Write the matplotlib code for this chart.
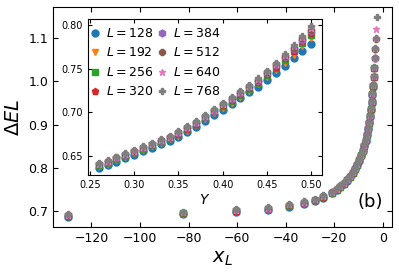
import numpy as np
import matplotlib
matplotlib.use("Agg")
import matplotlib.pyplot as plt

# ---------------- data ----------------
L_values = [128, 192, 256, 320, 384, 512, 640, 768]
markers = ['o', 'v', 's', 'p', 'h', '8', '*', 'P']
colors = ['C0', 'C1', 'C2', 'C3', 'C4', 'C5', 'C6', 'C7']

# main panel: common x_L grid, per-L Delta E L values (shorter lists end earlier)
main_x = [-129.5, -82.5, -60.5, -47.5, -38.5, -32.5, -28.0, -24.5, -21.0, -19.0,
          -17.5, -16.0, -14.7, -13.5, -12.4, -11.4, -10.5, -9.7, -9.0, -8.3,
          -7.7, -7.1, -6.6, -6.1, -5.7, -5.3, -4.95, -4.6, -4.3, -4.05,
          -3.8, -3.6, -3.4, -3.2, -3.0, -2.8, -2.6]

main_y_128 = [0.686, 0.692, 0.698, 0.702, 0.710, 0.716, 0.722, 0.730,
              0.741, 0.748, 0.755, 0.762, 0.770, 0.778, 0.787, 0.796, 0.806, 0.816,
              0.827, 0.838, 0.850, 0.862, 0.875, 0.889, 0.903, 0.918, 0.934, 0.951,
              0.969, 0.988]
main_y_192 = [0.6875, 0.6935, 0.6995, 0.7035, 0.7115, 0.7175, 0.7235, 0.7315,
              0.742, 0.749, 0.756, 0.763, 0.771, 0.779, 0.788, 0.797, 0.807, 0.817,
              0.828, 0.839, 0.851, 0.863, 0.876, 0.890, 0.904, 0.919, 0.935, 0.952,
              0.970, 0.989, 1.009]
main_y_256 = [0.6885, 0.6945, 0.7005, 0.7045, 0.7125, 0.7185, 0.7245, 0.7325,
              0.7425, 0.7495, 0.7565, 0.7635, 0.7715, 0.7795, 0.7885, 0.7975, 0.8075,
              0.8175, 0.8285, 0.8395, 0.8515, 0.8635, 0.8765, 0.8905, 0.9045, 0.9195,
              0.9355, 0.9525, 0.9705, 0.9895, 1.0095, 1.0305]
main_y_320 = [0.689, 0.695, 0.701, 0.705, 0.713, 0.719, 0.725, 0.733,
              0.743, 0.750, 0.757, 0.764, 0.772, 0.780, 0.789, 0.798, 0.808, 0.818,
              0.829, 0.840, 0.852, 0.864, 0.877, 0.891, 0.905, 0.920, 0.936, 0.953,
              0.971, 0.990, 1.010, 1.031, 1.053]
main_y_384 = [0.6895, 0.6955, 0.7015, 0.7055, 0.7135, 0.7195, 0.7255, 0.7335,
              0.7435, 0.7505, 0.7575, 0.7645, 0.7725, 0.7805, 0.7895, 0.7985, 0.8085,
              0.8185, 0.8295, 0.8405, 0.8525, 0.8645, 0.8775, 0.8915, 0.9055, 0.9205,
              0.9365, 0.9535, 0.9715, 0.9905, 1.0105, 1.0315, 1.0535, 1.0755]
main_y_512 = [0.690, 0.696, 0.702, 0.706, 0.714, 0.720, 0.726, 0.734,
              0.744, 0.751, 0.758, 0.765, 0.773, 0.781, 0.790, 0.799, 0.809, 0.819,
              0.830, 0.841, 0.853, 0.865, 0.878, 0.892, 0.906, 0.921, 0.937, 0.954,
              0.972, 0.991, 1.011, 1.032, 1.054, 1.076, 1.099]
main_y_640 = [0.691, 0.697, 0.703, 0.707, 0.715, 0.721, 0.727, 0.735,
              0.7445, 0.7515, 0.7585, 0.7655, 0.7735, 0.7815, 0.7905, 0.7995, 0.8095,
              0.8195, 0.8305, 0.8415, 0.8535, 0.8655, 0.8785, 0.8925, 0.9065, 0.9215,
              0.9375, 0.9545, 0.9725, 0.9915, 1.0115, 1.0325, 1.0545, 1.0765, 1.0995,
              1.122]
main_y_768 = [0.692, 0.698, 0.704, 0.708, 0.716, 0.722, 0.728, 0.736,
              0.745, 0.752, 0.759, 0.766, 0.774, 0.782, 0.791, 0.800, 0.810, 0.820,
              0.831, 0.842, 0.854, 0.866, 0.879, 0.893, 0.907, 0.922, 0.938, 0.955,
              0.973, 0.992, 1.012, 1.033, 1.055, 1.077, 1.100, np.nan, 1.149]

# inset: Y grid and per-L Delta E L
inset_Y = [0.26, 0.27, 0.28, 0.29, 0.30, 0.31, 0.32, 0.33, 0.34, 0.35, 0.36, 0.37, 0.38,
           0.39, 0.40, 0.41, 0.42, 0.43, 0.44, 0.45, 0.46, 0.47, 0.48, 0.49, 0.50]
inset_128 = [0.636, 0.639, 0.643, 0.647, 0.651, 0.655, 0.659, 0.663, 0.667, 0.671, 0.677,
             0.683, 0.690, 0.697, 0.703, 0.709, 0.716, 0.723, 0.729, 0.737, 0.745, 0.753,
             0.762, 0.771, 0.779]
inset_192 = [0.638, 0.641, 0.645, 0.649, 0.653, 0.657, 0.661, 0.665, 0.669, 0.673, 0.679,
             0.685, 0.692, 0.699, 0.705, 0.711, 0.718, 0.725, 0.732, 0.740, 0.749, 0.757,
             0.766, 0.776, 0.785]
inset_256 = [0.639, 0.642, 0.646, 0.650, 0.654, 0.658, 0.662, 0.666, 0.670, 0.675, 0.681,
             0.687, 0.694, 0.701, 0.707, 0.713, 0.720, 0.727, 0.734, 0.743, 0.751, 0.760,
             0.770, 0.780, 0.789]
inset_320 = [0.640, 0.643, 0.647, 0.651, 0.655, 0.659, 0.663, 0.667, 0.671, 0.675, 0.681,
             0.687, 0.694, 0.701, 0.708, 0.714, 0.721, 0.728, 0.735, 0.744, 0.752, 0.762,
             0.771, 0.782, 0.791]
inset_384 = [0.640, 0.643, 0.647, 0.651, 0.655, 0.659, 0.663, 0.667, 0.671, 0.676, 0.682,
             0.688, 0.695, 0.702, 0.709, 0.715, 0.722, 0.729, 0.736, 0.745, 0.754, 0.763,
             0.773, 0.783, 0.793]
inset_512 = [0.641, 0.644, 0.648, 0.652, 0.656, 0.660, 0.664, 0.668, 0.672, 0.677, 0.683,
             0.689, 0.696, 0.703, 0.710, 0.716, 0.723, 0.730, 0.737, 0.746, 0.755, 0.765,
             0.774, 0.785, 0.795]
inset_640 = [0.641, 0.644, 0.648, 0.652, 0.656, 0.660, 0.664, 0.668, 0.672, 0.677, 0.683,
             0.689, 0.696, 0.703, 0.710, 0.716, 0.723, 0.730, 0.738, 0.747, 0.756, 0.766,
             0.776, 0.786, 0.797]
inset_768 = [0.642, 0.645, 0.649, 0.653, 0.657, 0.661, 0.665, 0.669, 0.673, 0.678, 0.684,
             0.690, 0.697, 0.704, 0.711, 0.717, 0.724, 0.731, 0.739, 0.748, 0.757, 0.767,
             0.777, 0.788, 0.799]

main_series = [main_y_128, main_y_192, main_y_256, main_y_320,
               main_y_384, main_y_512, main_y_640, main_y_768]
inset_series = [inset_128, inset_192, inset_256, inset_320,
                inset_384, inset_512, inset_640, inset_768]

# ---------------- figure ----------------
fig = plt.figure(figsize=(3.99, 2.73), dpi=100)
ax = fig.add_axes([0.1328, 0.1685, 0.8497, 0.8059])

for L, m, c, ys in zip(L_values, markers, colors, main_series):
    ax.plot(main_x[:len(ys)], ys, linestyle='none', marker=m, color=c, ms=5)

ax.set_xlabel(r'$x_L$', fontsize=14, labelpad=3)
ax.set_ylabel(r'$\Delta EL$', fontsize=14)
ax.set_xticks([-120, -100, -80, -60, -40, -20, 0])
ax.set_yticks([0.7, 0.8, 0.9, 1.0, 1.1])
ax.tick_params(direction='in', top=True, right=True, labelsize=9)
ax.text(0.937, 0.115, '(b)', transform=ax.transAxes, fontsize=13,
        ha='center', va='center')

axin = fig.add_axes([0.2206, 0.359, 0.5864, 0.571])
for L, m, c, ys in zip(L_values, markers, colors, inset_series):
    axin.plot(inset_Y, ys, linestyle='none', marker=m, color=c, ms=5,
              label=r'$L=%d$' % L)
axin.set_xlabel(r'$Y$', fontsize=10, labelpad=2)
axin.set_xticks([0.25, 0.30, 0.35, 0.40, 0.45, 0.50])
axin.set_yticks([0.65, 0.70, 0.75, 0.80])
axin.tick_params(direction='in', top=True, right=True, labelsize=7, length=3)
axin.legend(loc='upper left', bbox_to_anchor=(-0.009, 0.974), ncol=2,
            frameon=False, fontsize=9,
            handlelength=0.8, handletextpad=0.5, columnspacing=0.3,
            labelspacing=0.52, borderpad=0.2, borderaxespad=0.1)

fig.savefig('out.png', dpi=100)
